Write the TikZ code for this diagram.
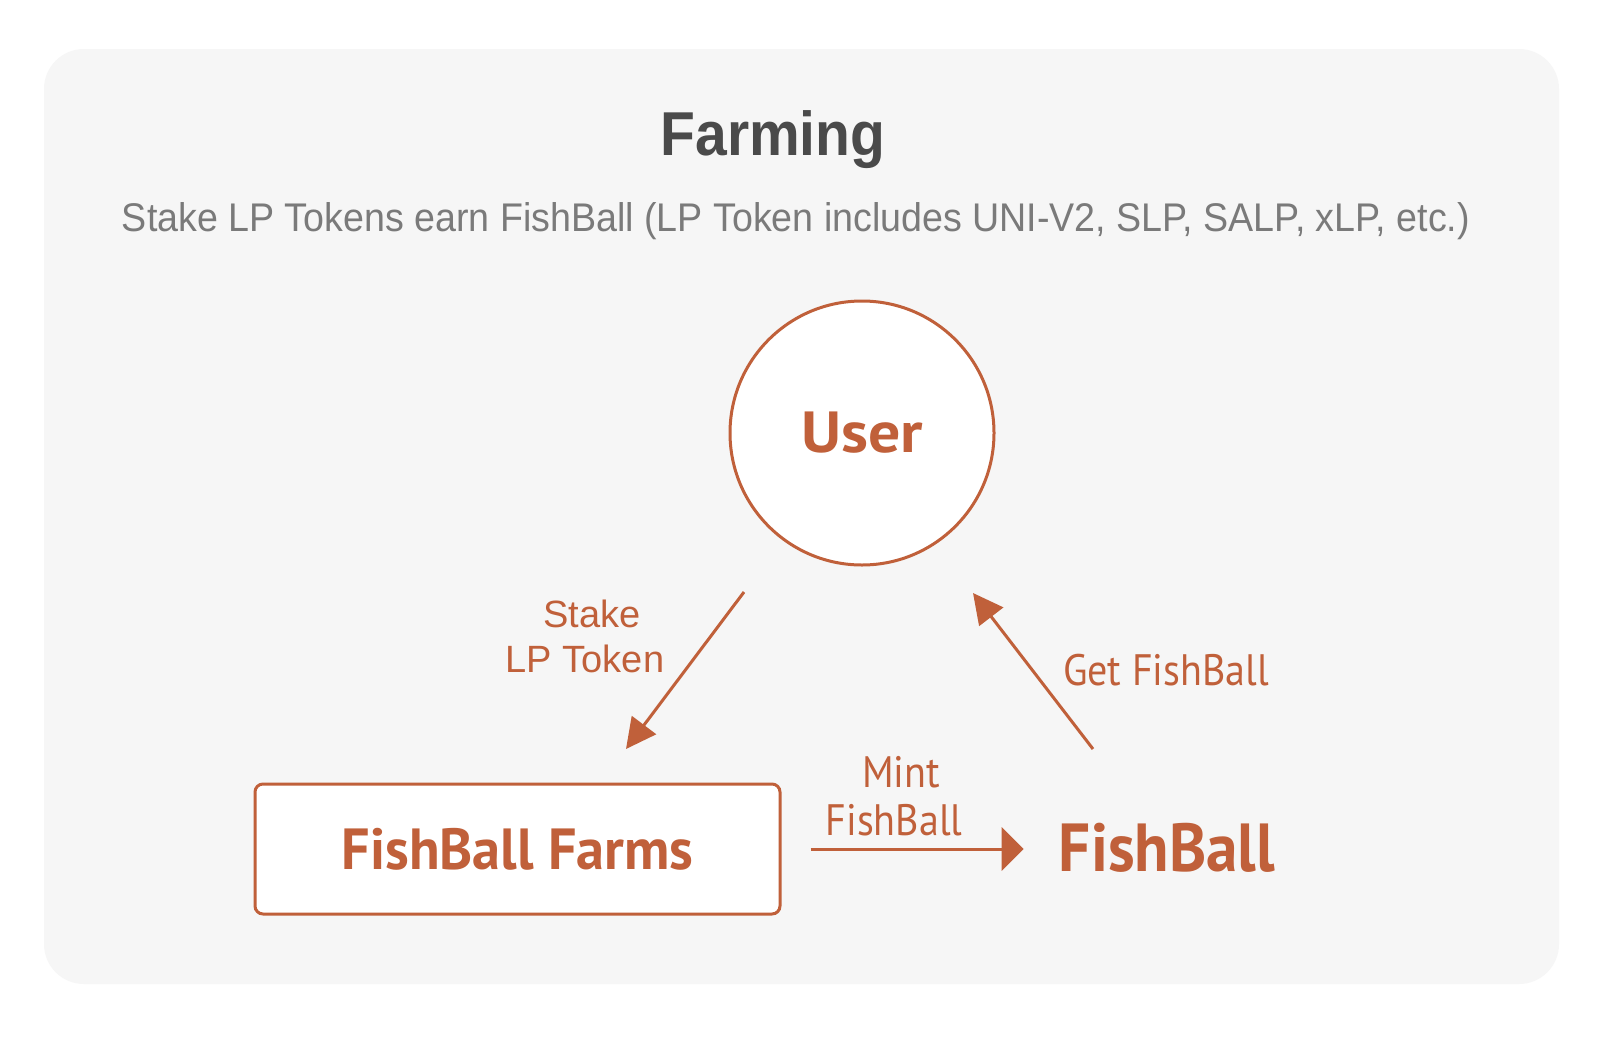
\documentclass[tikz,border=0pt]{standalone}
\usepackage{fontspec}
\setmainfont{PT Sans}
\newfontfamily\helv{Liberation Sans}
\usetikzlibrary{arrows.meta,calc}
\definecolor{rust}{HTML}{C0603A}
\definecolor{bgc}{HTML}{F6F6F6}
\definecolor{titlegray}{HTML}{4A4A4A}
\definecolor{subgray}{HTML}{7A7A7A}
\tikzset{
  lbl/.style={text=rust, inner sep=0pt},
  arr/.style={draw=rust, line width=3pt, -{Triangle[length=30pt,width=30pt]}},
  bigarr/.style={draw=rust, line width=3pt, -{Triangle[length=22pt,width=43pt]}},
}
\begin{document}
\begin{tikzpicture}[x=1pt,y=-1pt]
\useasboundingbox (0,0) rectangle (1616,1044);
\fill[white] (0,0) rectangle (1616,1044);
\fill[bgc, rounded corners=40pt] (44,49) rectangle (1559,984);

\node[anchor=base, inner sep=0pt, text=titlegray, font=\helv\bfseries\fontsize{62}{62}\selectfont] (title) at (773,155) {\scalebox{0.92}[1]{Farming}};
\node[anchor=base, inner sep=0pt, text=subgray, font=\helv\fontsize{40}{40}\selectfont] (sub) at (796,231) {\scalebox{0.94}[1]{Stake LP Tokens earn FishBall (LP Token includes UNI-V2, SLP, SALP, xLP, etc.)}};

\node[circle, draw=rust, line width=3pt, fill=white, minimum size=264pt, inner sep=0pt, text=rust, font=\bfseries\fontsize{58}{58}\selectfont] (user) at (862,433) {\scalebox{1.1}[1]{User}};

\node[draw=rust, line width=3pt, fill=white, rounded corners=8pt, minimum width=525pt, minimum height=130pt, inner sep=0pt, text=rust, font=\bfseries\fontsize{58}{58}\selectfont] (farms) at (517.5,849) {\scalebox{0.97}[1]{FishBall Farms}};

\node[lbl, anchor=base, font=\bfseries\fontsize{68}{68}\selectfont] (fishball) at (1167,871) {\scalebox{0.93}[1]{FishBall}};

\coordinate (s1) at (744,592);
\coordinate (s2) at (626,749);
\coordinate (g1) at (1093,749);
\coordinate (g2) at (973,593);
\draw[arr] (s1) -- (s2);
\draw[arr] (g1) -- (g2);
\draw[bigarr, shorten <=29pt, shorten >=35pt] (farms.east) -- (farms.east -| fishball.west);

\node[lbl, anchor=base, font=\helv\fontsize{38}{38}\selectfont] (stake) at (592,627) {Stake};
\node[lbl, anchor=base, font=\helv\fontsize{38}{38}\selectfont] (lptoken) at (585,672) {LP Token};
\node[lbl, anchor=base, font=\fontsize{44}{44}\selectfont] (get) at (1166,685) {\scalebox{0.91}[1]{Get FishBall}};
\node[lbl, anchor=base, font=\fontsize{44}{44}\selectfont] (mint) at (901,787) {\scalebox{0.91}[1]{Mint}};
\node[lbl, anchor=base, font=\fontsize{44}{44}\selectfont] (mintfb) at (894,835) {\scalebox{0.91}[1]{FishBall}};
\end{tikzpicture}
\end{document}
